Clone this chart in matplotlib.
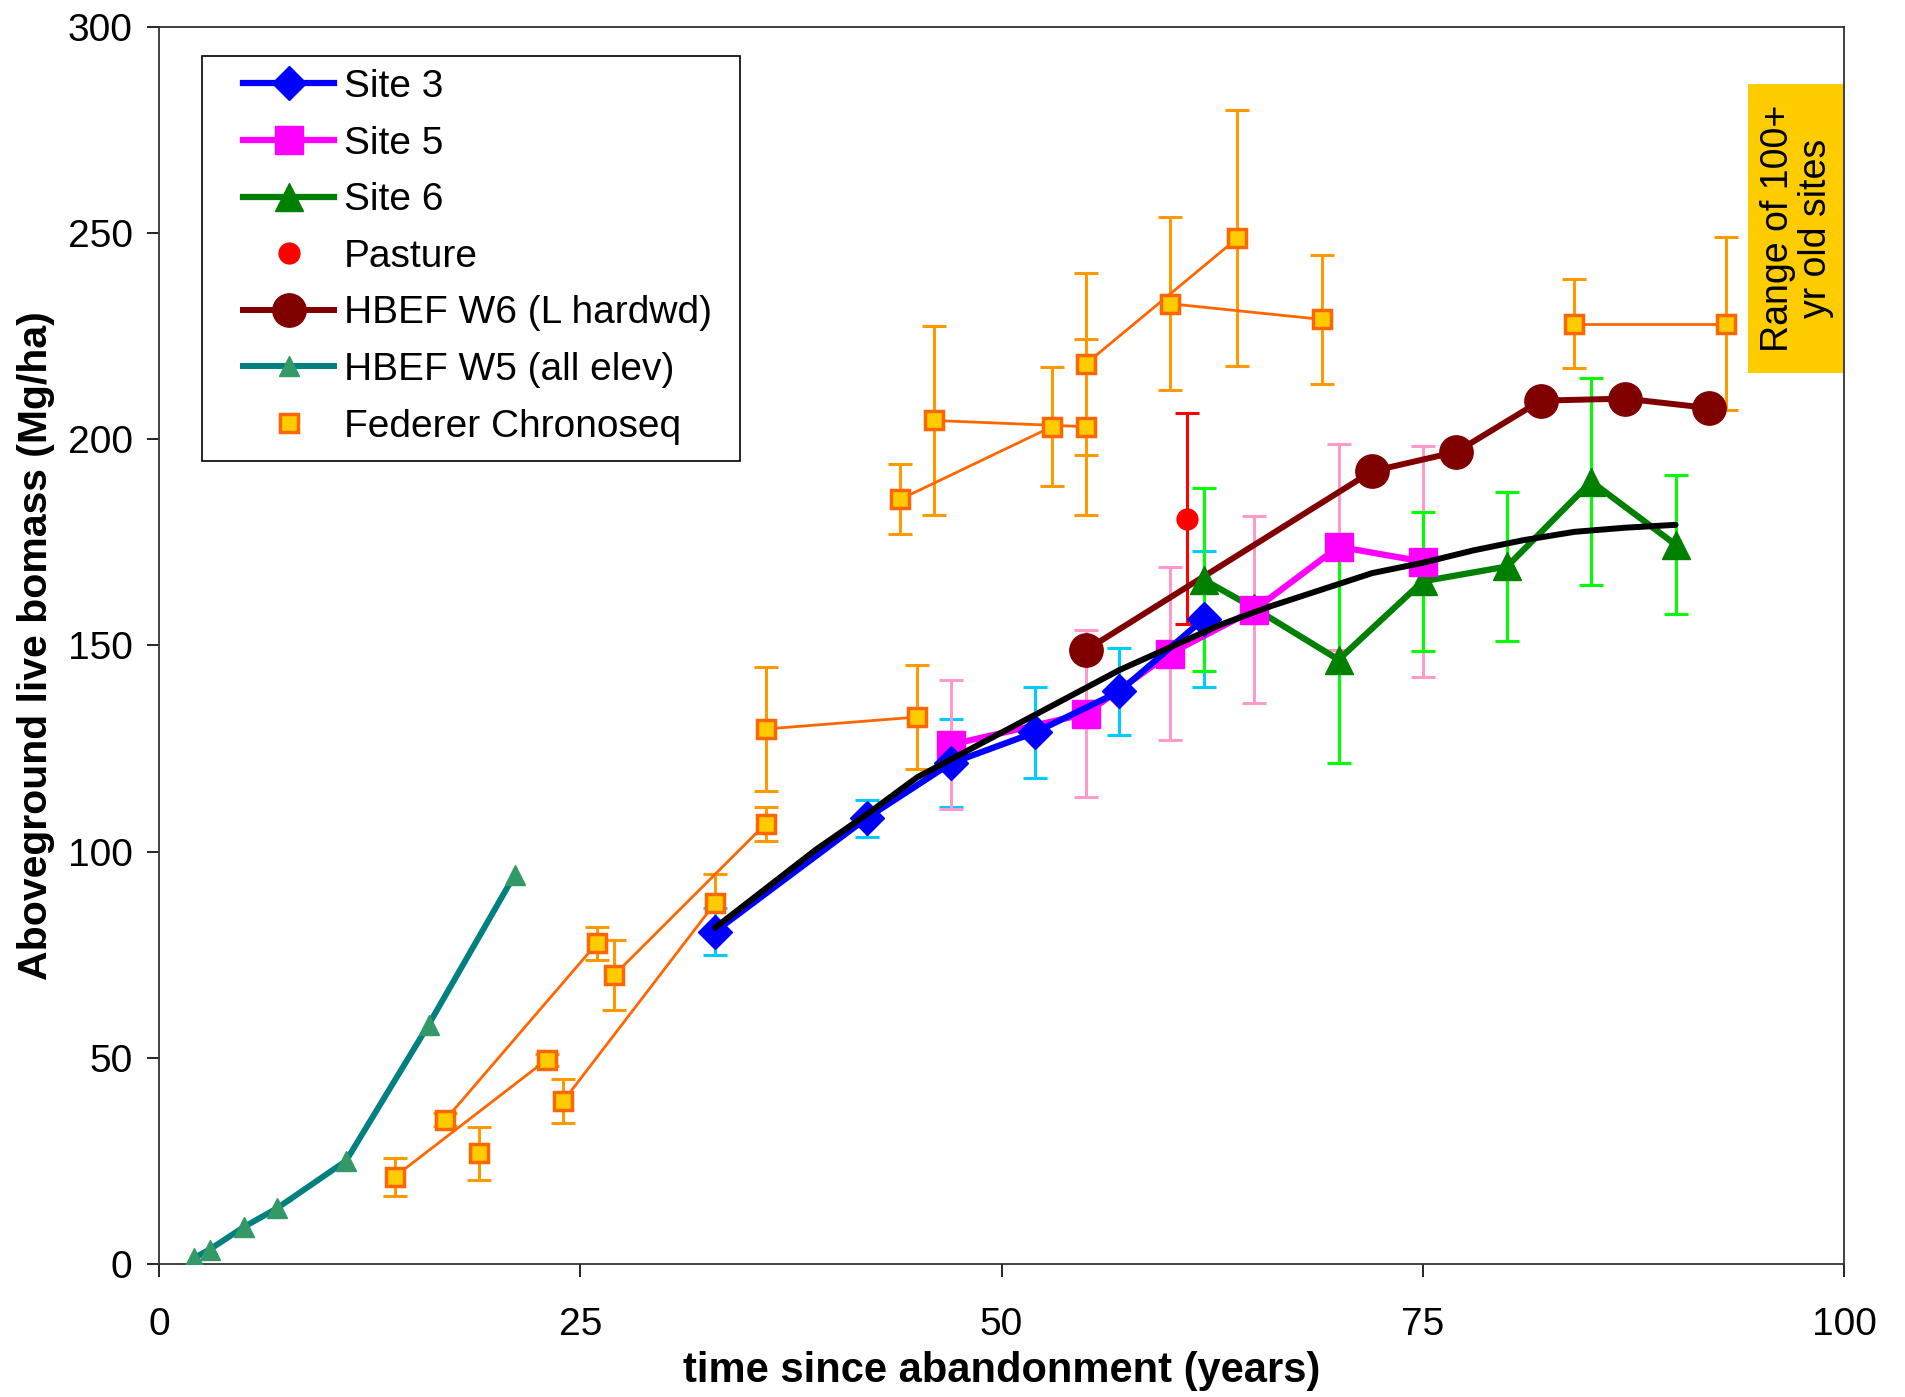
import matplotlib
matplotlib.use("Agg")
import matplotlib.pyplot as plt
from matplotlib.patches import Rectangle

plt.rcParams['font.family'] = ['Liberation Sans', 'DejaVu Sans']

# ---- data ----
site3_x = [33, 42, 47, 52, 57, 62]
site3_y = [80.6, 108.1, 121.4, 128.9, 138.8, 156.4]
site3_err = [5.7, 4.5, 10.7, 11, 10.5, 16.4]

site5_x = [47, 55, 60, 65, 70, 75]
site5_y = [125.9, 133.4, 148, 158.6, 173.9, 170.3]
site5_err = [15.6, 20.3, 21, 22.7, 25, 28]

site6_x = [62, 65, 70, 75, 80, 85, 90]
site6_y = [165.9, 159, 146.5, 165.5, 169.1, 189.7, 174.4]
site6_err = [22.2, 0, 25, 16.8, 18, 25, 16.8]

pasture_x = [61]
pasture_y = [180.7]
pasture_err = [25.6]

w6_x = [55, 72, 77, 82, 87, 92]
w6_y = [148.8, 192.2, 196.9, 209.3, 209.8, 207.5]

w5_x = [2.1, 3, 5.05, 7, 11.1, 16, 21.1]
w5_y = [1.5, 3.5, 9, 13.5, 25, 58, 94.3]

fed_x = [14, 17, 19, 23, 24, 26, 27, 33, 36, 36, 44, 45, 46, 53, 55, 55, 60, 64, 69, 84, 93]
fed_y = [21.2, 35, 26.8, 49.5, 39.5, 77.8, 70, 87.5, 106.7, 129.7, 185.4, 132.6,
         204.5, 203, 203, 218.2, 232.8, 248.7, 229, 228, 228]
fed_err = [4.6, 1.5, 6.4, 1.5, 5.3, 4, 8.5, 7, 4.2, 15, 8.5, 12.5,
           23, 14.5, 21.3, 22, 21, 31, 15.7, 10.7, 21]
# remeasured plots, 9 yrs apart (index pairs)
fed_pairs = [(0, 3), (1, 5), (4, 7), (6, 8), (9, 11), (10, 13), (12, 14), (15, 17), (16, 18), (19, 20)]

model_x = [33, 36, 39, 42, 45, 48, 51, 54, 57, 60, 63, 66, 69, 72, 75, 78, 81, 84, 87, 90]
model_y = [81.5, 91, 100.5, 109, 118, 124.5, 131, 137.5, 144, 149.5, 155, 159.5, 163.5,
           167.5, 170, 173, 175.5, 177.5, 178.5, 179.2]

fig = plt.figure(figsize=(19.06, 13.97), dpi=100)
ax = fig.add_axes([0.0834, 0.0952, 0.8841, 0.8858])

eb = dict(fmt='none', elinewidth=2.2, capsize=8.5, capthick=2.2, zorder=2)

# Federer chronosequence
ax.errorbar(fed_x, fed_y, yerr=fed_err, ecolor='#FF9900', **eb)
for a, b in fed_pairs:
    ax.plot([fed_x[a], fed_x[b]], [fed_y[a], fed_y[b]], color='#FF6600', lw=2, zorder=3)
ax.plot(fed_x, fed_y, 's', ms=13, mfc='#FFCC00', mec='#FF6600', mew=2.5, zorder=4,
        label='Federer Chronoseq')

# error bars of the sites
ax.errorbar(site3_x, site3_y, yerr=site3_err, ecolor='#00CCFF', **eb)
ax.errorbar(site5_x, site5_y, yerr=site5_err, ecolor='#FF99CC', **eb)
ax.errorbar(site6_x, site6_y, yerr=site6_err, ecolor='#00FF00', **eb)
ax.errorbar(pasture_x, pasture_y, yerr=pasture_err, ecolor='#FF0000', **eb)

ax.plot(w5_x, w5_y, '-^', color='#008080', mfc='#339966', mec='#339966', ms=14, lw=4.3,
        zorder=5, label='HBEF W5 (all elev)')
ax.plot(w6_x, w6_y, '-o', color='#800000', ms=24, lw=4.3, zorder=5,
        label='HBEF W6 (L hardwd)')
ax.plot(site6_x, site6_y, '-^', color='#008000', ms=20, lw=4.5, zorder=6, label='Site 6')
ax.plot(site5_x, site5_y, '-s', color='#FF00FF', ms=20, lw=4.5, zorder=6, label='Site 5')
ax.plot(site3_x, site3_y, '-D', color='#0000FF', ms=17, lw=4.5, zorder=6, label='Site 3')
ax.plot(pasture_x, pasture_y, 'o', color='#FF0000', ms=15, zorder=6, label='Pasture')

ax.plot(model_x, model_y, '-', color='black', lw=4.3, zorder=7, solid_capstyle='round')

# range of old sites box
ax.add_patch(Rectangle((94.3, 216), 5.7, 70, facecolor='#FFCC00', edgecolor='none', zorder=1))
ax.text(97.2, 251, 'Range of 100+\nyr old sites', rotation=90, ha='center', va='center',
        fontsize=27, linespacing=1.05, zorder=8)

ax.set_xlim(0, 100)
ax.set_ylim(0, 300)
ax.set_xticks([0, 25, 50, 75, 100])
ax.set_yticks(range(0, 301, 50))
ax.tick_params(direction='out', length=9, width=1.2, labelsize=28, pad=10)
ax.tick_params(axis='x', pad=22)
for s in ax.spines.values():
    s.set_linewidth(1.3)
    s.set_color('#333333')

ax.set_xlabel('time since abandonment (years)', fontsize=30, fontweight='bold', labelpad=6)
ax.set_ylabel('Aboveground live bomass (Mg/ha)', fontsize=29.5, fontweight='bold', labelpad=9)

h, l = ax.get_legend_handles_labels()
order = ['Site 3', 'Site 5', 'Site 6', 'Pasture', 'HBEF W6 (L hardwd)', 'HBEF W5 (all elev)',
         'Federer Chronoseq']
hd = dict(zip(l, h))
leg = ax.legend([hd[k] for k in order], order, loc='upper left', bbox_to_anchor=(0.0499, 0.9657),
                fontsize=28, frameon=False, handlelength=2.35, borderpad=0,
                labelspacing=0.53, handletextpad=0.25, borderaxespad=0)
leg.set_zorder(9)
# legend frame drawn on its own (the box has wider side padding than top padding)
ax.add_patch(Rectangle((0.0254, 0.6492), 0.3196, 0.3272, transform=ax.transAxes,
                       facecolor='white', edgecolor='black', lw=1.2, zorder=8.5))

fig.savefig('out.png', dpi=100)
